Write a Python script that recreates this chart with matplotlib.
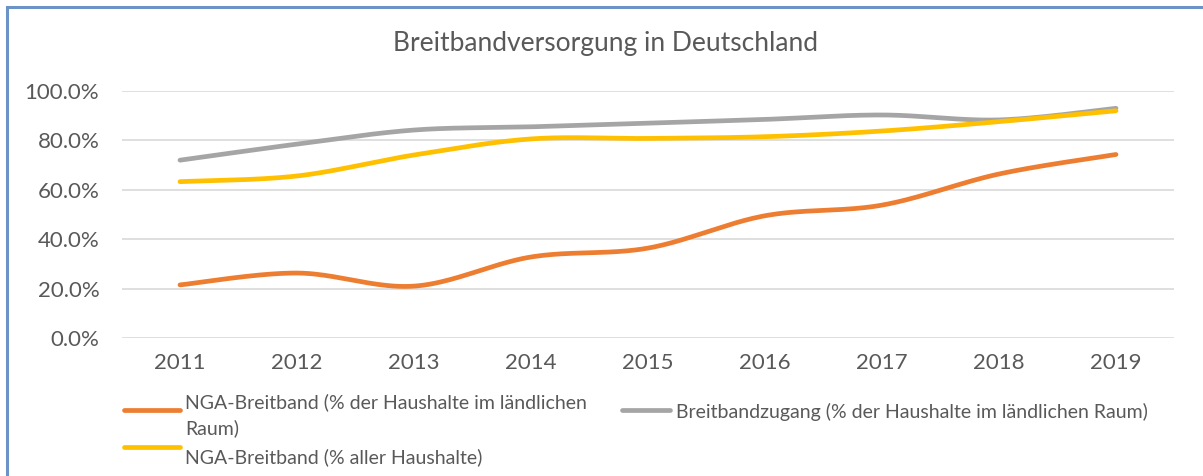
import numpy as np
import matplotlib
matplotlib.use("Agg")
import matplotlib.pyplot as plt
from matplotlib.lines import Line2D
from matplotlib.patches import Rectangle

# ---------------------------------------------------------
# DATA
# ---------------------------------------------------------
years = [2011, 2012, 2013, 2014, 2015, 2016, 2017, 2018, 2019]
nga_rural = [21.5, 26.3, 21.0, 32.8, 36.4, 49.5, 53.8, 66.4, 74.3]
access_rural = [72.0, 78.5, 84.2, 85.5, 87.0, 88.5, 90.3, 88.3, 93.0]
nga_all = [63.3, 65.6, 74.1, 80.6, 80.8, 81.5, 83.8, 87.6, 92.0]

label_nga_rural = "NGA-Breitband (% der Haushalte im ländlichen\nRaum)"
label_access = "Breitbandzugang (% der Haushalte im ländlichen Raum)"
label_nga_all = "NGA-Breitband (% aller Haushalte)"
title = "Breitbandversorgung in Deutschland"

ORANGE = "#ED7D31"
GRAY = "#A5A5A5"
YELLOW = "#FFC000"
TEXT = "#595959"
FONT = "Lato"


# ---------------------------------------------------------
# HELPERS
# ---------------------------------------------------------
def smooth(xs, ys, n=40):
    """Excel-like smoothed line: cubic bezier with catmull-rom controls."""
    xs = np.asarray(xs, float)
    ys = np.asarray(ys, float)
    px, py = [], []
    for i in range(len(xs) - 1):
        x0, y0 = (xs[i - 1], ys[i - 1]) if i > 0 else (xs[i], ys[i])
        x1, y1 = xs[i], ys[i]
        x2, y2 = xs[i + 1], ys[i + 1]
        x3, y3 = (xs[i + 2], ys[i + 2]) if i + 2 < len(xs) else (x2, y2)
        c1x, c1y = x1 + (x2 - x0) / 6, y1 + (y2 - y0) / 6
        c2x, c2y = x2 - (x3 - x1) / 6, y2 - (y3 - y1) / 6
        t = np.linspace(0, 1, n)
        a, b, c, d = (1 - t) ** 3, 3 * (1 - t) ** 2 * t, 3 * (1 - t) * t ** 2, t ** 3
        px.extend(a * x1 + b * c1x + c * c2x + d * x2)
        py.extend(a * y1 + b * c1y + c * c2y + d * y2)
    return np.array(px), np.array(py)


# ---------------------------------------------------------
# PLOT
# ---------------------------------------------------------
fig = plt.figure(figsize=(12.03, 4.76), dpi=100)
ax = fig.add_axes([0.101, 0.2899, 0.8753, 0.5189])

for vals, col in [(nga_rural, ORANGE), (access_rural, GRAY), (nga_all, YELLOW)]:
    sx, sy = smooth(years, vals)
    ax.plot(sx, sy, color=col, lw=3.4, solid_capstyle="round", zorder=3)

ax.set_xlim(years[0] - 0.5, years[-1] + 0.5)
ax.set_ylim(0, 100)
ax.set_yticks(np.arange(0, 101, 20))
ax.set_yticklabels([f"{v:.1f}%" for v in np.arange(0, 101, 20)])
ax.set_xticks(years)
ax.set_xticklabels([str(y) for y in years])
ax.grid(axis="y", color="#D9D9D9", lw=1.2)
ax.set_axisbelow(True)
for s in ax.spines.values():
    s.set_visible(False)
ax.tick_params(length=0, colors=TEXT, labelsize=16)
ax.tick_params(axis="x", pad=11)
ax.tick_params(axis="y", pad=16)
for lab in ax.get_xticklabels() + ax.get_yticklabels():
    lab.set_fontfamily(FONT)

fig.text(0.503, 0.908, title, ha="center", va="center", fontsize=19,
         color=TEXT, family=FONT)

# legend drawn by hand, two columns like the original
W, H = 1203, 476
def leg(x0, x1, y, col, tx, ty, txt):
    fig.add_artist(Line2D([x0 / W, x1 / W], [1 - y / H, 1 - y / H], color=col,
                          lw=3.4, solid_capstyle="round", transform=fig.transFigure))
    fig.text(tx / W, 1 - ty / H, txt, ha="left", va="top", fontsize=14,
             color=TEXT, family=FONT, linespacing=1.55)

leg(124, 180, 410, ORANGE, 185, 393, label_nga_rural)
leg(622, 670, 410, GRAY, 676, 403, label_access)
leg(124, 180, 447, YELLOW, 185, 448, label_nga_all)

# blue frame of the embedded chart
fig.add_artist(Rectangle((7 / W, -0.05), 1.5, 1 - 7 / H + 0.05, fill=False,
                         edgecolor="#6B93C8", lw=2.2, transform=fig.transFigure))

fig.savefig("out.png", dpi=100, facecolor="white")
